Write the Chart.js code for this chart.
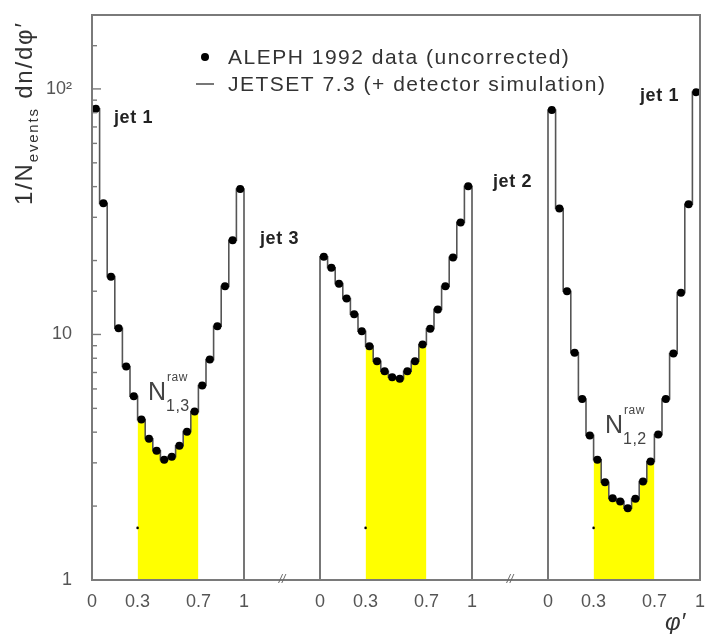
<!DOCTYPE html>
<html>
<head>
<meta charset="utf-8">
<script src="https://cdn.jsdelivr.net/npm/chart.js@4.4.0/dist/chart.umd.min.js"></script>
<style>
  html, body { margin: 0; padding: 0; background: #fff; }
  #wrap { width: 706px; height: 634px; }
</style>
</head>
<body>
<div id="wrap"><canvas id="phiChart" width="706" height="634"></canvas></div>
<script>
// 20 bins of width 0.05 in phi' for each jet-jet segment
var seg13 = [83, 34.2, 17.2, 10.6, 7.4, 5.6, 4.5, 3.76, 3.36, 3.09, 3.18, 3.52, 4.02, 4.85, 6.2, 7.9, 10.8, 15.7, 24.2, 39.1];
var seg32 = [20.7, 18.7, 16.1, 14.0, 12.1, 10.3, 8.96, 7.78, 7.08, 6.7, 6.6, 7.08, 7.78, 9.1, 10.55, 12.65, 15.7, 20.6, 28.6, 40.1];
var seg21 = [82.1, 32.6, 15.0, 8.42, 5.46, 3.88, 3.09, 2.5, 2.15, 2.09, 1.96, 2.14, 2.52, 3.04, 3.91, 5.46, 8.37, 14.8, 33.9, 97];
var segments = [seg13, seg32, seg21];
var panelStart = [0, 1.5, 3];
var binWidth = 0.05;
var cutLow = 0.3, cutHigh = 0.7;
var tickLabels = ['0', '0.3', '0.7', '1'];
var tickValues = [0, 0.3, 0.7, 1];
var markY = [1.63, 1.63, 1.63];

var lineColor = '#555555';

// histogram outline of one segment (left bin edges, stepped)
function histPoints(start, vals) {
    var pts = [{x: start, y: 1}];
    vals.forEach(function(v, i) {
        pts.push({x: start + i * binWidth, y: v});
    });
    var end = start + vals.length * binWidth;
    pts.push({x: end, y: vals[vals.length - 1]});
    pts.push({x: end, y: 1});
    pts.push({x: end, y: null});
    return pts;
}

// shaded region 0.3 < phi' < 0.7
function fillPoints(start, vals) {
    var pts = [];
    var i0 = Math.round(cutLow / binWidth), i1 = Math.round(cutHigh / binWidth);
    for (var i = i0; i < i1; i++) {
        pts.push({x: start + i * binWidth, y: vals[i]});
    }
    pts.push({x: start + i1 * binWidth, y: vals[i1 - 1]});
    return pts;
}

var histData = [], dotData = [], markData = [];
segments.forEach(function(vals, p) {
    histData = histData.concat(histPoints(panelStart[p], vals));
    vals.forEach(function(v, i) {
        dotData.push({x: panelStart[p] + (i + 0.5) * binWidth, y: v});
    });
    markData.push({x: panelStart[p] + cutLow, y: markY[p]});
});

var datasets = [];
segments.forEach(function(vals, p) {
    datasets.push({
        label: 'shade',
        data: fillPoints(panelStart[p], vals),
        stepped: true,
        fill: 'start',
        backgroundColor: '#ffff00',
        borderWidth: 0,
        pointRadius: 0,
        order: 4
    });
});
datasets.push({
    label: 'JETSET 7.3 (+ detector simulation)',
    data: histData,
    stepped: true,
    fill: false,
    borderColor: lineColor,
    borderWidth: 1.6,
    pointRadius: 0,
    spanGaps: false,
    order: 3
});
datasets.push({
    label: 'ALEPH 1992 data (uncorrected)',
    data: dotData,
    showLine: false,
    pointRadius: 4,
    pointBackgroundColor: '#000',
    pointBorderWidth: 0,
    order: 2
});
datasets.push({
    label: 'marks',
    data: markData,
    showLine: false,
    pointRadius: 1.3,
    pointBackgroundColor: '#000',
    pointBorderWidth: 0,
    order: 1
});

function panelOf(v) {
    for (var p = panelStart.length - 1; p >= 0; p--) {
        if (v >= panelStart[p] - 1e-9) return p;
    }
    return 0;
}

// extra drawing: frame, inward ticks, legend, labels
var decor = {
    id: 'decor',
    afterDraw: function(chart) {
        var ctx = chart.ctx, a = chart.chartArea;
        var xs = chart.scales.x, ys = chart.scales.y;
        ctx.save();

        ctx.strokeStyle = '#7a7a7a';
        ctx.lineWidth = 2;
        ctx.strokeRect(a.left, a.top, a.right - a.left, a.bottom - a.top);

        ctx.lineWidth = 1.4;
        ys.ticks.forEach(function(t) {
            var lg = Math.log10(t.value);
            var major = Math.abs(lg - Math.round(lg)) < 1e-6;
            var y = ys.getPixelForValue(t.value);
            ctx.beginPath();
            ctx.moveTo(a.left, y);
            ctx.lineTo(a.left + (major ? 9 : 5), y);
            ctx.stroke();
        });

        // axis break marks
        ctx.fillStyle = '#666';
        ctx.font = 'italic 12px "Liberation Sans", Arial, sans-serif';
        ctx.textAlign = 'center';
        ctx.textBaseline = 'middle';
        [1.25, 2.75].forEach(function(v) {
            ctx.fillText('//', xs.getPixelForValue(v), a.bottom);
        });

        // legend
        var dots = chart.data.datasets[4], hist = chart.data.datasets[3];
        ctx.letterSpacing = '1.5px';
        ctx.font = '21px "Liberation Sans", Arial, sans-serif';
        ctx.textAlign = 'left';
        ctx.fillStyle = '#000';
        ctx.beginPath();
        ctx.arc(205, 57, 4, 0, Math.PI * 2);
        ctx.fill();
        ctx.strokeStyle = lineColor;
        ctx.lineWidth = 1.6;
        ctx.beginPath();
        ctx.moveTo(196, 84);
        ctx.lineTo(214, 84);
        ctx.stroke();
        ctx.fillStyle = '#333';
        ctx.fillText(dots.label, 228, 58);
        ctx.fillText(hist.label, 228, 85);

        // jet labels
        ctx.font = 'bold 18px "Liberation Sans", Arial, sans-serif';
        ctx.letterSpacing = '0.6px';
        ctx.fillStyle = '#222';
        ctx.fillText('jet 1', 114, 118);
        ctx.fillText('jet 3', 260, 239);
        ctx.fillText('jet 2', 493, 182);
        ctx.fillText('jet 1', 640, 96);

        // N raw labels
        function nLabel(x, y, sub) {
            ctx.fillStyle = '#444';
            ctx.textBaseline = 'alphabetic';
            ctx.font = '25px "Liberation Sans", Arial, sans-serif';
            ctx.fillText('N', x, y);
            ctx.font = '12px "Liberation Sans", Arial, sans-serif';
            ctx.fillText('raw', x + 19, y - 19);
            ctx.font = '16px "Liberation Sans", Arial, sans-serif';
            ctx.fillText(sub, x + 18, y + 11);
        }
        ctx.letterSpacing = '0.5px';
        nLabel(148, 400, '1,3');
        nLabel(605, 433, '1,2');

        // y title
        ctx.save();
        ctx.translate(32, 205);
        ctx.rotate(-Math.PI / 2);
        ctx.fillStyle = '#333';
        ctx.textBaseline = 'alphabetic';
        ctx.letterSpacing = '1.8px';
        ctx.font = '24px "Liberation Sans", Arial, sans-serif';
        var tx = 0;
        ctx.fillText('1/N', tx, 0);
        tx += ctx.measureText('1/N').width;
        ctx.font = '15px "Liberation Sans", Arial, sans-serif';
        ctx.fillText('events', tx, 6);
        tx += ctx.measureText('events').width;
        ctx.font = '24px "Liberation Sans", Arial, sans-serif';
        ctx.fillText(' dn/d\u03c6\u2032', tx, 0);
        ctx.restore();

        // x title
        ctx.fillStyle = '#333';
        ctx.letterSpacing = '0px';
        ctx.font = 'italic 24px "Liberation Sans", Arial, sans-serif';
        ctx.textBaseline = 'alphabetic';
        ctx.fillText('\u03c6\u2032', 665, 630);

        ctx.restore();
    }
};

new Chart(document.getElementById('phiChart'), {
    type: 'line',
    data: { datasets: datasets },
    options: {
        responsive: false,
        animation: false,
        layout: { padding: { top: 15, right: 6, left: 0, bottom: 0 } },
        plugins: {
            legend: { display: false },
            tooltip: { enabled: false }
        },
        scales: {
            x: {
                type: 'linear',
                min: 0,
                max: 4,
                grid: { display: false, drawTicks: false },
                border: { display: false },
                afterFit: function(scale) {
                    scale.height = 54;
                    scale.paddingLeft = 0;
                    scale.paddingRight = 0;
                },
                afterBuildTicks: function(scale) {
                    var t = [];
                    panelStart.forEach(function(s) {
                        tickValues.forEach(function(v) { t.push({value: s + v}); });
                    });
                    scale.ticks = t;
                },
                ticks: {
                    autoSkip: false,
                    maxRotation: 0,
                    padding: 11,
                    color: '#555',
                    font: { family: '"Liberation Sans", Arial, sans-serif', size: 18 },
                    callback: function(value) {
                        var p = panelOf(value);
                        var rel = value - panelStart[p];
                        for (var i = 0; i < tickValues.length; i++) {
                            if (Math.abs(rel - tickValues[i]) < 1e-6) return tickLabels[i];
                        }
                        return '';
                    }
                }
            },
            y: {
                type: 'logarithmic',
                min: 1,
                max: 200,
                grid: { display: false, drawTicks: false },
                border: { display: false },
                afterFit: function(scale) {
                    scale.width = 92;
                    scale.paddingTop = 0;
                    scale.paddingBottom = 0;
                },
                ticks: {
                    autoSkip: false,
                    padding: 20,
                    color: '#555',
                    font: { family: '"Liberation Sans", Arial, sans-serif', size: 18 },
                    callback: function(value) {
                        if (value === 1) return '1';
                        if (value === 10) return '10';
                        if (value === 100) return '10\u00b2';
                        return '';
                    }
                }
            }
        }
    },
    plugins: [decor]
});
</script>
</body>
</html>
